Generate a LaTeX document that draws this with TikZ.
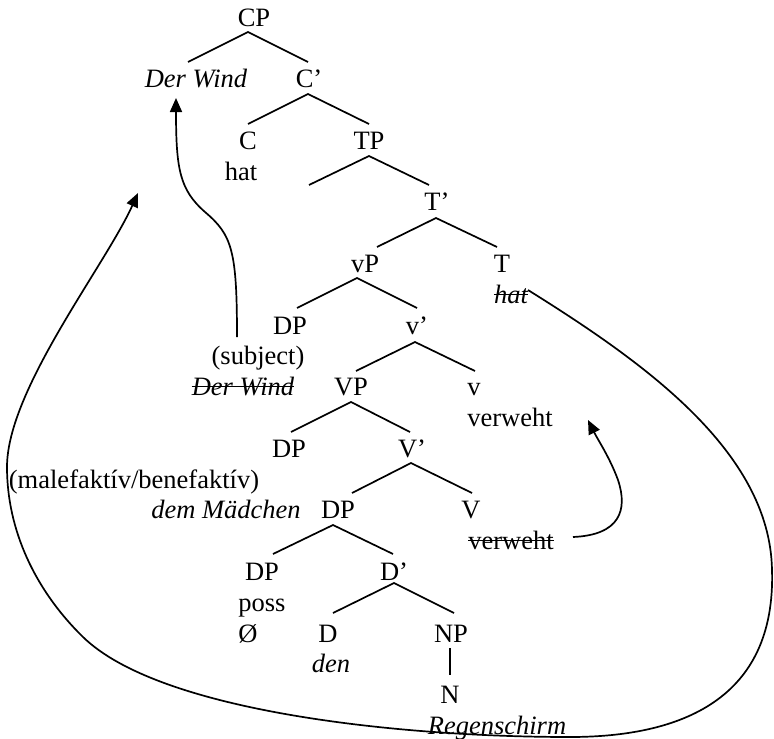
\documentclass[tikz,border=0pt]{standalone}
\usepackage{fontspec}
\setmainfont{Liberation Serif}
\usetikzlibrary{arrows.meta}
\begin{document}
\begin{tikzpicture}[x=1pt,y=-1pt,
  lbl/.style={inner sep=0pt, anchor=base, font=\fontsize{26.5pt}{30pt}\selectfont},
  ilbl/.style={lbl, font=\fontsize{26.5pt}{30pt}\selectfont\itshape},
  branch/.style={line width=1.7pt},
  strike/.style={line width=1.3pt},
  move/.style={line width=1.7pt, -{Triangle[length=14pt,width=12pt]}}]
\useasboundingbox (0,0) rectangle (774,739);

% labels (baselines on a 30.8pt grid starting at 26)
\node[lbl]  (cp)     at (254,26)    {CP};
\node[ilbl] (spec)   at (196,87.6)  {Der Wind};
\node[lbl]  (cbar)   at (309,87.6)  {C’};
\node[lbl]  (c)      at (248,149.2) {C};
\node[lbl]  (chat)   at (241,180)   {hat};
\node[lbl]  (tp)     at (369,149.2) {TP};
\node[lbl]  (tbar)   at (437,210.8) {T’};
\node[lbl]  (vp)     at (365,272.4) {vP};
\node[lbl]  (t)      at (502,272.4) {T};
\node[ilbl] (that)   at (511,303.2) {hat};
\node[lbl]  (dpa)    at (290,334)   {DP};
\node[lbl]  (vbar)   at (417,334)   {v’};
\node[lbl]  (subj)   at (258,364.8) {(subject)};
\node[ilbl] (subjdw) at (243,395.6) {Der Wind};
\node[lbl]  (bigvp)  at (351,395.6) {VP};
\node[lbl]  (v)      at (474,395.6) {v};
\node[lbl]  (vverb)  at (510,426.4) {verweht};
\node[lbl]  (dpb)    at (289,457.2) {DP};
\node[lbl]  (bigvbar) at (412,457.2) {V’};
\node[lbl]  (role)   at (134,488)   {(malefaktív/benefaktív)};
\node[ilbl] (dem)    at (226,518.8) {dem Mädchen};
\node[lbl]  (dpc)    at (338,518.8) {DP};
\node[lbl]  (bigv)   at (471,518.8) {V};
\node[lbl]  (Vverb)  at (511,549.6) {verweht};
\node[lbl]  (dpd)    at (262,580.4) {DP};
\node[lbl]  (dbar)   at (394,580.4) {D’};
\node[lbl]  (poss)   at (262,611.2) {poss};
\node[lbl]  (null)   at (248,642)   {Ø};
\node[lbl]  (d)      at (328,642)   {D};
\node[lbl]  (np)     at (451,642)   {NP};
\node[ilbl] (den)    at (331,672.8) {den};
\node[lbl]  (n)      at (450,703.6) {N};
\node[ilbl] (regen)  at (497,734.4) {Regenschirm};

% struck-out copies
\foreach \w in {that,subjdw,Vverb}
  \draw[strike] ([yshift=9pt]\w.base west) -- ([yshift=9pt]\w.base east);

% branch points
\path (248,32) coordinate (cp-t)   (188,62)  coordinate (cp-l)   (308,62)  coordinate (cp-r)
      (308,94) coordinate (cb-t)   (248,124) coordinate (cb-l)   (369,124) coordinate (cb-r)
      (369,156) coordinate (tp-t)  (309,185) coordinate (tp-l)   (429,185) coordinate (tp-r)
      (436,218) coordinate (tb-t)  (377,247) coordinate (tb-l)   (497,247) coordinate (tb-r)
      (357,278) coordinate (vp-t)  (297,308) coordinate (vp-l)   (417,308) coordinate (vp-r)
      (415,342) coordinate (vb-t)  (356,371) coordinate (vb-l)   (475,371) coordinate (vb-r)
      (351,402) coordinate (VP-t)  (291,432) coordinate (VP-l)   (410,432) coordinate (VP-r)
      (411,463) coordinate (Vb-t)  (352,493) coordinate (Vb-l)   (472,493) coordinate (Vb-r)
      (333,525) coordinate (dp-t)  (273,554) coordinate (dp-l)   (393,554) coordinate (dp-r)
      (394,583) coordinate (db-t)  (333,613) coordinate (db-l)   (454,613) coordinate (db-r)
      (450,648) coordinate (np-b)  (450,675) coordinate (n-t);

\foreach \p in {cp,cb,tp,tb,vp,vb,VP,Vb,dp,db}
  \draw[branch] (\p-l) -- (\p-t) -- (\p-r);
\draw[branch] (np-b) -- (n-t);

% movement arrows
\path (237,337) coordinate (subj-up)   (176,98)  coordinate (spec-low)
      (528,290) coordinate (that-end)  (138,193) coordinate (c-land)
      (573,537) coordinate (Vverb-end) (588,420) coordinate (vverb-low);

\draw[move] (subj-up) .. controls (237,250) and (232,235) .. (205,212)
            .. controls (180,190) and (176,170) .. (spec-low);

\draw[move] (that-end) .. controls (640,360) and (770,450) .. (772,570)
            .. controls (776,700) and (680,737) .. (570,737)
            .. controls (400,737) and (160,712) .. (83,637)
            .. controls (35,590) and (7,530) .. (7,467)
            .. controls (7,390) and (105,266) .. (c-land);

\draw[move] (Vverb-end) .. controls (620,535) and (628,510) .. (618,480)
            .. controls (610,458) and (598,440) .. (vverb-low);
\end{tikzpicture}
\end{document}
